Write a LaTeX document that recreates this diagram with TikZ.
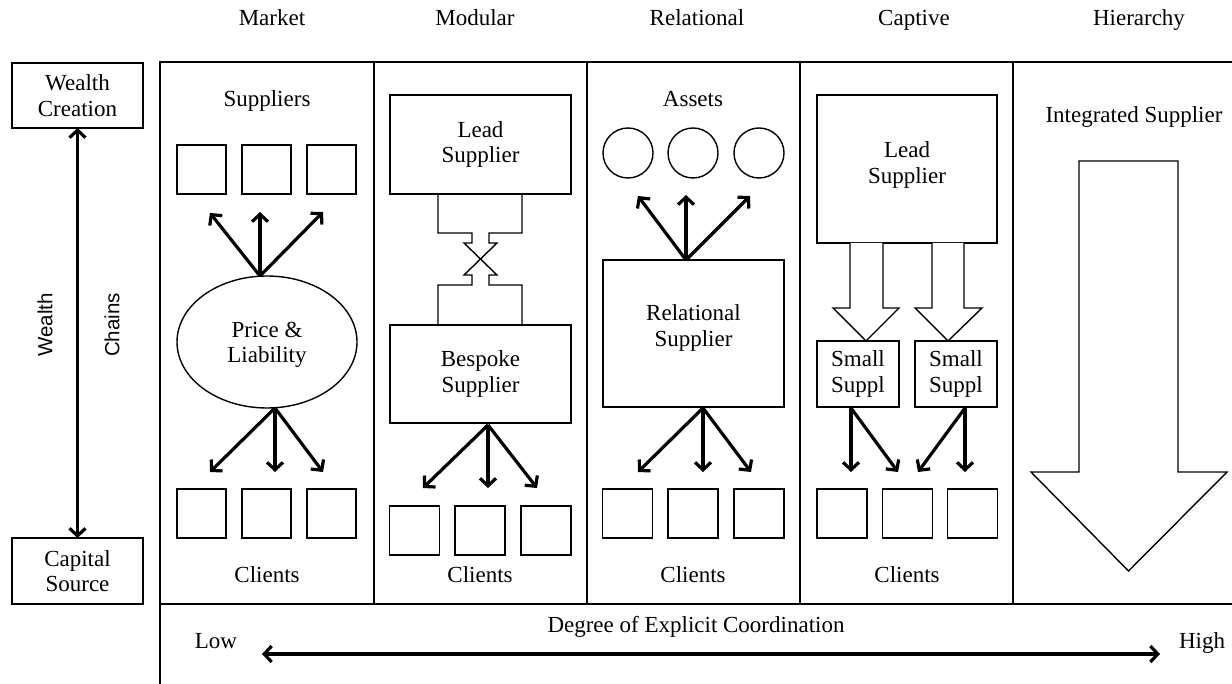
\documentclass[tikz,border=0pt]{standalone}
\usepackage{fontspec}
\setmainfont{Liberation Serif}
\newfontfamily\rotfont{Liberation Sans}
\usetikzlibrary{arrows.meta,shapes.geometric}
\begin{document}
\begin{tikzpicture}[x=1pt,y=-1pt,
  frame/.style={line width=1.8pt},
  box/.style={draw, line width=1.4pt, inner sep=0pt, outer sep=0pt, rectangle, font=\fontsize{23}{25.5}\selectfont, align=center},
  sq/.style={box, minimum width=49pt, minimum height=49pt},
  lbl/.style={font=\fontsize{23}{25.5}\selectfont, inner sep=0pt, align=center},
  side/.style={font=\rotfont\fontsize{20.5}{24}\selectfont, inner sep=0pt, rotate=90},
  arr/.style={line width=3.2pt, -{Straight Barb[length=7.5pt,width=16pt]}},
  darr/.style={line width=3.2pt, {Straight Barb[length=7.5pt,width=16pt]}-{Straight Barb[length=7.5pt,width=16pt]}},
  hollow/.style={draw, line width=1.4pt, fill=white, line join=miter},
  circ/.style={draw, circle, line width=1.4pt, minimum size=50pt, inner sep=0pt}
]
\useasboundingbox (0,0) rectangle (1232,684);

% column titles
\node[lbl, anchor=base] (tmarket) at (272,26) {Market};
\node[lbl, anchor=base] (tmodular) at (475,26) {Modular};
\node[lbl, anchor=base] (trelational) at (697,26) {Relational};
\node[lbl, anchor=base] (tcaptive) at (914,26) {Captive};
\node[lbl, anchor=base] (thierarchy) at (1139,26) {Hierarchy};

% frame
\draw[frame] (160,684) -- (160,62) -- (1232,62);
\draw[frame] (160,604) -- (1232,604);
\foreach \xx in {374,587,800,1013} {\draw[frame] (\xx,62) -- (\xx,604);}

% left axis
\node[box, minimum width=131pt, minimum height=65pt] (wc) at (77.5,95.5) {Wealth\\Creation};
\node[box, minimum width=131pt, minimum height=66pt] (cs) at (77.5,571) {Capital\\Source};
\draw[darr] (wc) -- (cs);
\node[side] (wealth) at (45,325) {Wealth};
\node[side] (chains) at (112,325) {Chains};

% ---------- Market ----------
\node[lbl, anchor=base] (msup) at (267,107) {Suppliers};
\node[sq] (ms1) at (201.5,169.5) {};
\node[sq] (ms2) at (266.5,169.5) {};
\node[sq] (ms3) at (331.5,169.5) {};
\node[draw, ellipse, line width=1.4pt, minimum width=180pt, minimum height=132pt, inner sep=0pt] (pl) at (267,342) {};
\node[lbl] (pltext) at (267,345) {Price \&\\Liability};
\coordinate (plt) at (260,276);
\coordinate (plb) at (275,408);
\coordinate (ma1) at (210,213);
\coordinate (ma2) at (260,212);
\coordinate (ma3) at (323,212);
\draw[arr] (plt) -- (ma1);
\draw[arr] (plt) -- (ma2);
\draw[arr] (plt) -- (ma3);
\coordinate (mb1) at (210,472);
\coordinate (mb2) at (275,472);
\coordinate (mb3) at (323,472);
\draw[arr] (plb) -- (mb1);
\draw[arr] (plb) -- (mb2);
\draw[arr] (plb) -- (mb3);
\node[sq] (mc1) at (201.5,513.5) {};
\node[sq] (mc2) at (266.5,513.5) {};
\node[sq] (mc3) at (331.5,513.5) {};
\node[lbl, anchor=base] (mcl) at (267,582) {Clients};

% ---------- Modular ----------
\node[box, minimum width=181pt, minimum height=99pt] (lead1) at (480.5,144.5) {Lead\\Supplier};
\node[box, minimum width=181pt, minimum height=98pt] (besp) at (480.5,374) {Bespoke\\Supplier};
\draw[line width=1.4pt, line join=miter] (438,194) -- (438,233) -- (472,233) -- (472,243) -- (464,243) -- (497,275) -- (489,275) -- (489,285) -- (522,285) -- (522,325);
\draw[line width=1.4pt, line join=miter] (522,194) -- (522,233) -- (489,233) -- (489,243) -- (497,243) -- (464,275) -- (472,275) -- (472,285) -- (438,285) -- (438,325);
\coordinate (bt) at (488,425);
\coordinate (da1) at (423,488);
\coordinate (da2) at (488,488);
\coordinate (da3) at (537,488);
\draw[arr] (bt) -- (da1);
\draw[arr] (bt) -- (da2);
\draw[arr] (bt) -- (da3);
\node[sq, minimum width=50pt] (dc1) at (414.5,530.5) {};
\node[sq, minimum width=50pt] (dc2) at (480,530.5) {};
\node[sq, minimum width=50pt] (dc3) at (546,530.5) {};
\node[lbl, anchor=base] (dcl) at (480,582) {Clients};

% ---------- Relational ----------
\node[lbl, anchor=base] (assets) at (693,107) {Assets};
\node[circ] (as1) at (628,153) {};
\node[circ] (as2) at (693,153) {};
\node[circ] (as3) at (759,153) {};
\node[box, minimum width=181pt, minimum height=147pt] (rel) at (693.5,333.5) {};
\node[lbl] (reltext) at (693.5,328) {Relational\\Supplier};
\coordinate (rt) at (686,260);
\coordinate (ra1) at (638,196);
\coordinate (ra2) at (686,195);
\coordinate (ra3) at (750,196);
\draw[arr] (rt) -- (ra1);
\draw[arr] (rt) -- (ra2);
\draw[arr] (rt) -- (ra3);
\coordinate (rb) at (703,408);
\coordinate (rb1) at (638,472);
\coordinate (rb2) at (703,472);
\coordinate (rb3) at (751,472);
\draw[arr] (rb) -- (rb1);
\draw[arr] (rb) -- (rb2);
\draw[arr] (rb) -- (rb3);
\node[sq, minimum width=50pt] (rc1) at (627.5,513.5) {};
\node[sq, minimum width=50pt] (rc2) at (693,513.5) {};
\node[sq, minimum width=50pt] (rc3) at (759,513.5) {};
\node[lbl, anchor=base] (rcl) at (693,582) {Clients};

% ---------- Captive ----------
\node[box, minimum width=180pt, minimum height=148pt] (lead2) at (907,169) {};
\node[lbl] (lead2text) at (907,165) {Lead\\Supplier};
\draw[hollow] (850,243) -- (850,308) -- (833,308) -- (866,341) -- (899,308) -- (883,308) -- (883,243);
\draw[hollow] (932,243) -- (932,308) -- (915,308) -- (948,341) -- (982,308) -- (964,308) -- (964,243);
\node[box, minimum width=82pt, minimum height=66pt] (ss1) at (858,374) {Small\\Suppl};
\node[box, minimum width=82pt, minimum height=66pt] (ss2) at (956,374) {Small\\Suppl};
\coordinate (s1b) at (851,408);
\coordinate (s2b) at (965,408);
\coordinate (cb1) at (851,472);
\coordinate (cb2) at (898,472);
\coordinate (cb3) at (918,472);
\coordinate (cb4) at (965,472);
\draw[arr] (s1b) -- (cb1);
\draw[arr] (s1b) -- (cb2);
\draw[arr] (s2b) -- (cb3);
\draw[arr] (s2b) -- (cb4);
\node[sq, minimum width=50pt] (cc1) at (842,513.5) {};
\node[sq, minimum width=50pt] (cc2) at (907.5,513.5) {};
\node[sq, minimum width=50pt] (cc3) at (972.5,513.5) {};
\node[lbl, anchor=base] (ccl) at (907,582) {Clients};

% ---------- Hierarchy ----------
\node[lbl, anchor=base] (integ) at (1134,123) {Integrated Supplier};
\draw[hollow] (1079,161) -- (1178,161) -- (1178,472) -- (1227,472) -- (1128.5,571) -- (1031,472) -- (1079,472) -- cycle;

% ---------- Bottom ----------
\node[lbl, anchor=base] (degree) at (696,632) {Degree of Explicit Coordination};
\node[lbl, anchor=base] (low) at (216,648) {Low};
\node[lbl, anchor=base] (high) at (1202,648) {High};
\coordinate (lowend) at (262,654);
\coordinate (highend) at (1160,654);
\draw[darr] (lowend) -- (highend);
\end{tikzpicture}
\end{document}
